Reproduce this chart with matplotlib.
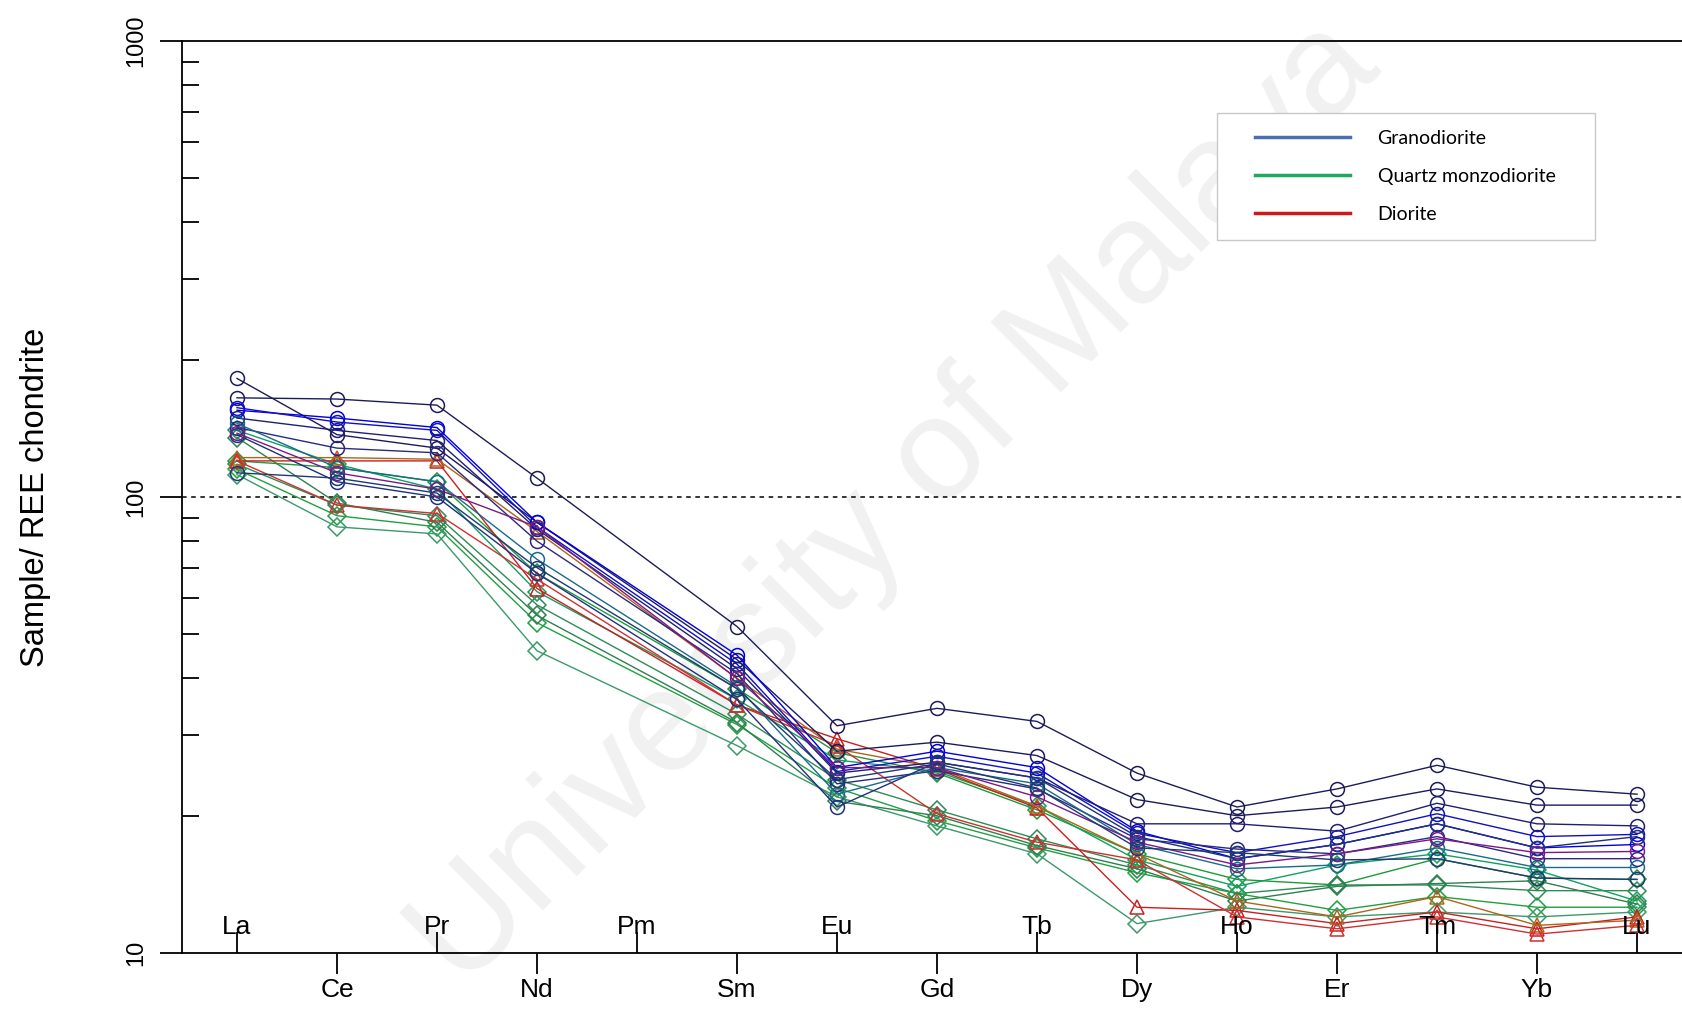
import matplotlib
matplotlib.use("Agg")
import matplotlib.pyplot as plt
import matplotlib.transforms as mtransforms
from matplotlib.lines import Line2D
from matplotlib.patches import Rectangle
import numpy as np

plt.rcParams['font.family'] = ['Liberation Sans', 'DejaVu Sans']

# REE order on the x axis (Pm has no data)
elements = ["La", "Ce", "Pr", "Nd", "Pm", "Sm", "Eu", "Gd", "Tb", "Dy", "Ho", "Er", "Tm", "Yb", "Lu"]
measured = ["La", "Ce", "Pr", "Nd", "Sm", "Eu", "Gd", "Tb", "Dy", "Ho", "Er", "Tm", "Yb", "Lu"]

# chondrite normalised values
#          La   Ce   Pr   Nd   Sm   Eu    Gd    Tb    Dy    Ho    Er    Tm    Yb    Lu
grano = [
    [165, 164, 159, 110, 52, 31.5, 34.4, 32.2, 24.8, 20.9, 22.9, 25.8, 23.1, 22.3],
    [182, 137, 128, 88, 44, 27.7, 29.0, 27.1, 21.7, 20.0, 20.9, 22.9, 21.1, 21.1],
    [155, 149, 142, 88, 45, 25.5, 27.7, 25.5, 18.5, 16.1, 17.3, 19.2, 17.0, 17.3],
    [157, 146, 140, 86, 43, 25.0, 27.0, 24.8, 18.3, 16.6, 18.0, 20.2, 18.0, 18.2],
    [149, 140, 133, 85, 42, 24.8, 26.2, 24.2, 19.2, 19.2, 18.5, 21.3, 19.2, 19.0],
    [142, 128, 125, 80, 41, 23.5, 25.1, 22.9, 17.8, 16.9, 16.5, 18.0, 16.1, 16.1],
    [145, 116, 108, 73, 38.4, 22.3, 25.5, 23.5, 17.3, 15.3, 15.6, 17.0, 15.4, 15.4],
    [137, 108, 100, 68, 36, 20.9, 26.2, 24.2, 18.0, 16.1, 17.3, 19.2, 17.0, 18.0],
    [138, 113, 104, 86, 40, 25.5, 25.5, 22.0, 17.5, 15.6, 16.5, 17.8, 16.6, 16.7],
    [113, 110, 102, 70, 38, 24.0, 26.0, 23.0, 17.0, 16.6, 16.0, 16.1, 14.6, 14.5],
]
qmd = [
    [120, 116, 108, 68, 38, 27.5, 24.8, 20.6, 16.5, 14.5, 14.1, 16.1, 14.6, 14.5],
    [118, 96, 91, 58, 33.4, 24.0, 20.6, 17.8, 15.6, 13.5, 14.1, 14.1, 13.7, 13.7],
    [115, 91, 86, 53, 31.7, 23.0, 19.5, 17.0, 15.0, 13.5, 12.4, 13.3, 12.6, 12.6],
    [112, 86, 83, 46, 28.5, 22.0, 19.0, 16.5, 11.6, 12.6, 12.0, 12.3, 12.0, 12.3],
    [140, 118, 104, 62, 36, 26.5, 25.0, 21.0, 16.0, 14.0, 15.6, 16.5, 15.2, 13.0],
    [135, 97, 88, 55, 32, 21.5, 20.0, 17.2, 15.3, 13.0, 14.0, 14.2, 14.4, 12.8],
]
diorite = [
    [120, 120, 120, 63, 35, 29.5, 25.3, 20.8, 12.6, 12.4, 11.6, 12.3, 11.3, 12.0],
    [122, 122, 121, 84, 40, 28.0, 25.5, 21.0, 16.5, 13.0, 12.0, 13.3, 11.5, 11.8],
    [120, 96, 92, 66, 35, 28.5, 20.2, 17.5, 16.0, 12.0, 11.3, 12.0, 11.0, 11.5],
]

grano_colors = ["#1c1c5c", "#1c1c5c", "#0000e0", "#1010c8", "#202070", "#2a2a80",
                "#1a6a8a", "#203080", "#7a1a8a", "#203a70"]
qmd_colors = ["#1e9a3a", "#2e8b57", "#20a040", "#3a9a6a", "#10a060", "#2f7f4f"]
dior_colors = ["#c82020", "#b0641a", "#d03030"]

legend_names = ["Granodiorite", "Quartz monzodiorite", "Diorite"]
legend_colors = ["#4a6fb0", "#1fa860", "#d01818"]

xpos = [elements.index(e) for e in measured]

fig = plt.figure(figsize=(16.82, 10.09), dpi=100)
ax = fig.add_axes([182 / 1682, 56 / 1009, 1 - 182 / 1682, 912 / 1009])

# faint watermark
ax.text(0.533, 0.50, "University of Malaya", transform=fig.transFigure, rotation=45,
        fontsize=104, color="#f1f1f1", ha="center", va="center", zorder=0.5)

for vals, c in zip(grano, grano_colors):
    ax.plot(xpos, vals, "-o", color=c, lw=1.0, ms=10, mfc="none", mec=c, mew=1.1, zorder=3)
for vals, c in zip(qmd, qmd_colors):
    ax.plot(xpos, vals, "-D", color=c, lw=1.0, ms=9, mfc="none", mec=c, mew=1.1, zorder=2.5)
for vals, c in zip(diorite, dior_colors):
    ax.plot(xpos, vals, "-^", color=c, lw=1.0, ms=10, mfc="none", mec=c, mew=1.1, zorder=2.7)

ax.axhline(100, color="black", lw=1.1, ls=(0, (3, 3)), zorder=1)

ax.set_yscale("log")
ax.set_ylim(10, 1000)
ax.set_xlim(-0.55, 14.45)

ax.spines["right"].set_visible(False)
for s in ["left", "top", "bottom"]:
    ax.spines[s].set_linewidth(1.3)

ax.set_yticks([10, 100, 1000])
ax.set_yticklabels(["10", "100", "1000"], rotation=90, va="center")
ax.tick_params(axis="y", which="major", direction="out", length=16, width=1.3,
               labelsize=17, pad=9)
ax.tick_params(axis="y", which="minor", direction="in", length=12, width=1.3)
ax.yaxis.set_minor_formatter(matplotlib.ticker.NullFormatter())

low = list(range(1, 15, 2))
high = list(range(0, 15, 2))
ax.set_xticks(low)
ax.set_xticklabels([elements[i] for i in low])
ax.set_xticks(high, minor=True)
ax.tick_params(axis="x", which="major", direction="out", length=15, width=1.3,
               labelsize=19, pad=3)
ax.tick_params(axis="x", which="minor", direction="in", length=15, width=1.3)
trans = mtransforms.blended_transform_factory(ax.transData, ax.transAxes)
for i in high:
    ax.annotate(elements[i], xy=(i, 0), xycoords=trans, xytext=(0, 10),
                textcoords="offset points", ha="center", va="bottom", fontsize=19,
                zorder=4)

ax.set_ylabel("Sample/ REE chondrite", fontsize=23.5)
ax.yaxis.set_label_coords(-0.087, 0.5)

# legend box (pasted-in style frame) and the legend itself
box = Rectangle((1217 / 1682, 1 - 240 / 1009), 378 / 1682, 127 / 1009,
                transform=fig.transFigure, facecolor="white", edgecolor="#c8c8c8",
                lw=1.0, zorder=5)
fig.add_artist(box)
handles = [Line2D([0], [0], color=c, lw=2.5) for c in legend_colors]
leg = fig.legend(handles, legend_names, loc="upper left",
                 bbox_to_anchor=(1255 / 1682, 1 - 130 / 1009),
                 prop={"family": "Lato", "size": 14}, frameon=False,
                 handlelength=4.9, handletextpad=1.4, borderpad=0, labelspacing=1.08,
                 borderaxespad=0)
leg.set_zorder(6)

fig.savefig("out.png", dpi=100)
